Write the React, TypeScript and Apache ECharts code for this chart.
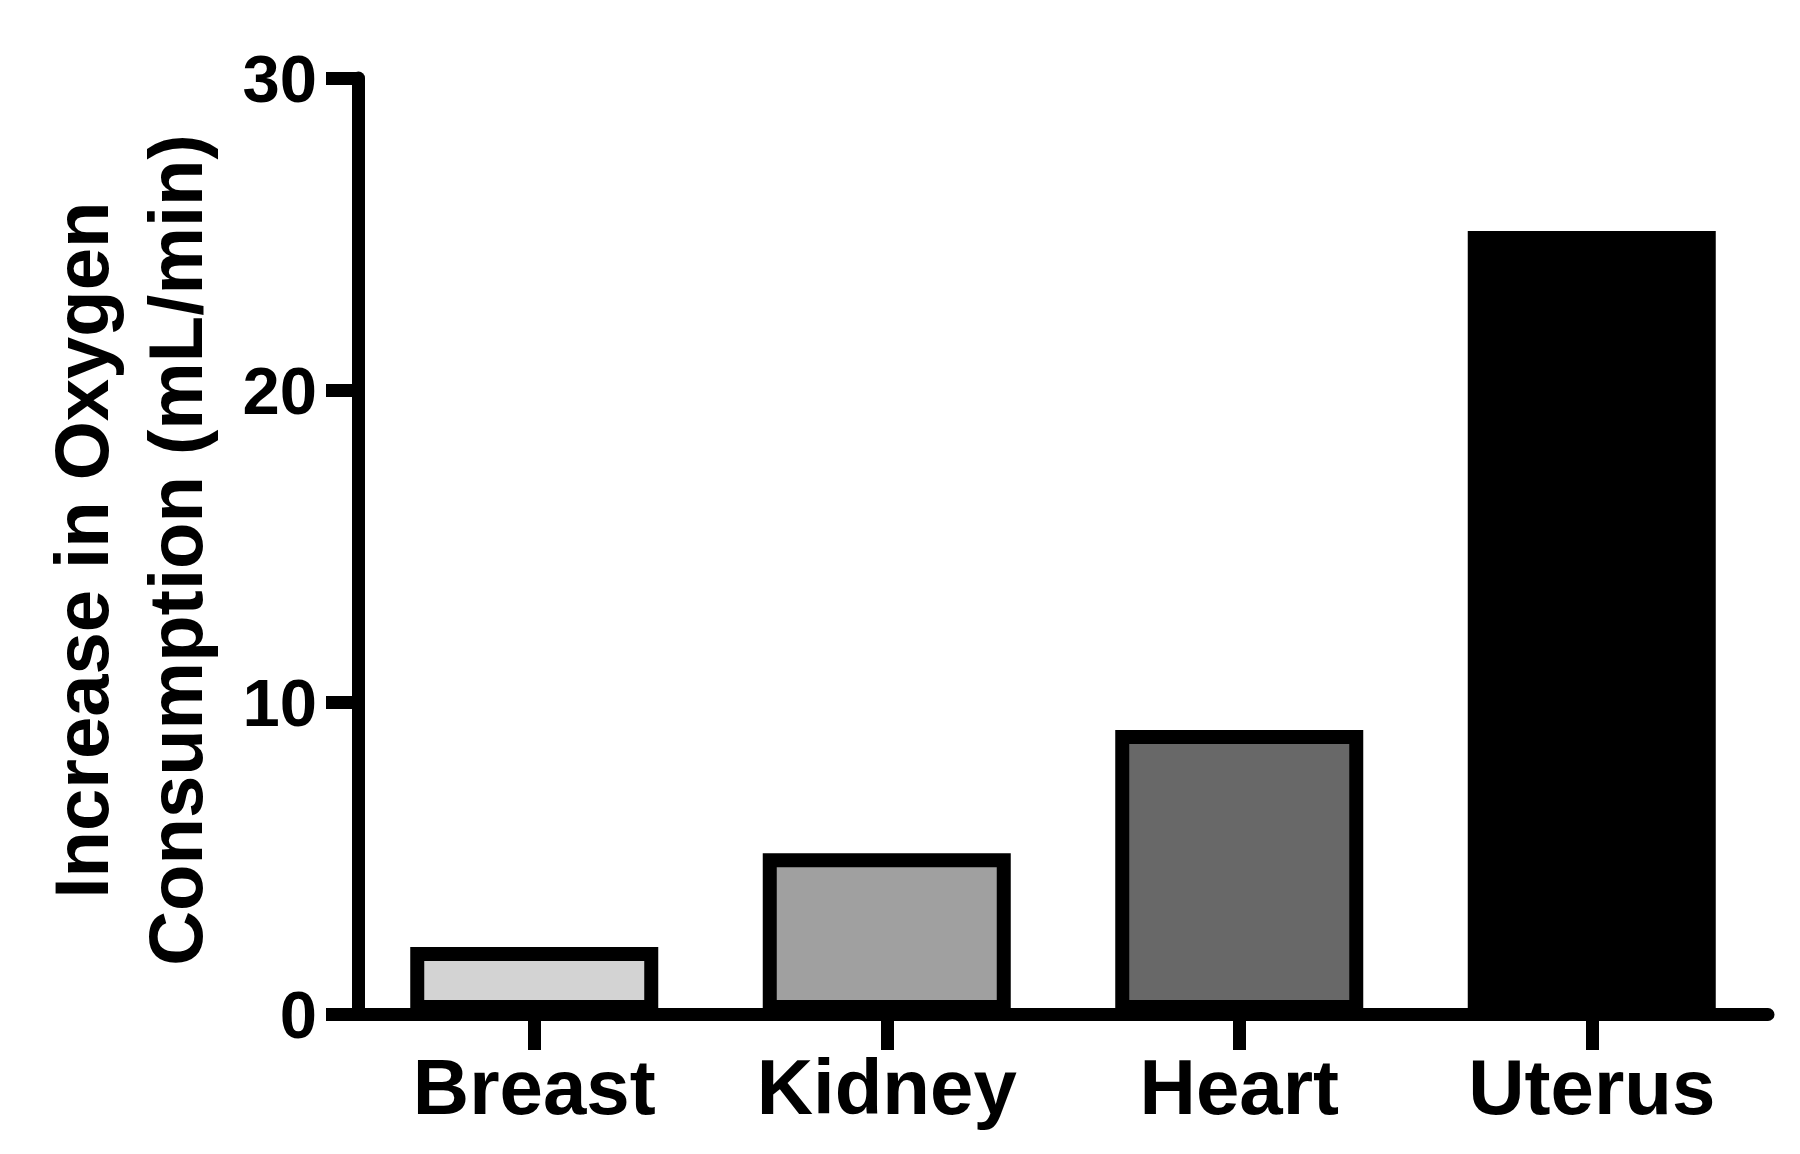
import React, { useEffect, useRef } from "react";
import * as echarts from "echarts";

const categories = ["Breast", "Kidney", "Heart", "Uterus"];
const values = [2.15, 5.15, 9.1, 25.1];
const fillColors = ["#d3d3d3", "#a0a0a0", "#686868", "#000000"];
const yTicks = [0, 10, 20, 30];
const yTitleLines = ["Increase in Oxygen", "Consumption (mL/min)"];

const FONT = "'Liberation Sans', Arial, Helvetica, sans-serif";

export default function App() {
  const ref = useRef<HTMLDivElement>(null);
  useEffect(() => {
    if (!ref.current) return;
    const chart = echarts.init(ref.current, undefined, { renderer: "svg" });
    chart.setOption({
      animation: false,
      backgroundColor: "#ffffff",
      grid: { left: 358, right: 32, top: 78, bottom: 140, containLabel: false },
      xAxis: {
        type: "category",
        data: categories,
        axisLine: { show: true, lineStyle: { color: "#000", width: 13 } },
        axisTick: { show: true, alignWithLabel: true, length: 36, lineStyle: { color: "#000", width: 13 } },
        axisLabel: { color: "#000", fontSize: 78, fontWeight: "bold", fontFamily: FONT, margin: 34 },
        splitLine: { show: false },
      },
      yAxis: {
        type: "value",
        min: yTicks[0],
        max: yTicks[yTicks.length - 1],
        interval: 10,
        axisLine: { show: true, lineStyle: { color: "#000", width: 13 } },
        axisTick: { show: true, length: 32, lineStyle: { color: "#000", width: 13 } },
        axisLabel: { color: "#000", fontSize: 67, fontWeight: "bold", fontFamily: FONT, margin: 41 },
        splitLine: { show: false },
      },
      graphic: [
        {
          type: "text",
          x: 81,
          y: 550,
          rotation: Math.PI / 2,
          style: {
            text: yTitleLines[0],
            fill: "#000",
            font: `bold 76px ${FONT}`,
            textAlign: "center",
            textVerticalAlign: "middle",
          },
        },
        {
          type: "text",
          x: 175,
          y: 550,
          rotation: Math.PI / 2,
          style: {
            text: yTitleLines[1],
            fill: "#000",
            font: `bold 76px ${FONT}`,
            textAlign: "center",
            textVerticalAlign: "middle",
          },
        },
      ],
      series: [
        {
          type: "bar",
          barWidth: 248,
          data: values.map((v, i) => ({
            value: v,
            itemStyle: { color: fillColors[i], borderColor: "#000", borderWidth: 14 },
          })),
        },
      ],
    });
    return () => chart.dispose();
  }, []);
  return (
    <div
      ref={ref}
      style={{ position: "fixed", left: 0, top: 0, width: 1800, height: 1154, background: "#fff" }}
    />
  );
}
